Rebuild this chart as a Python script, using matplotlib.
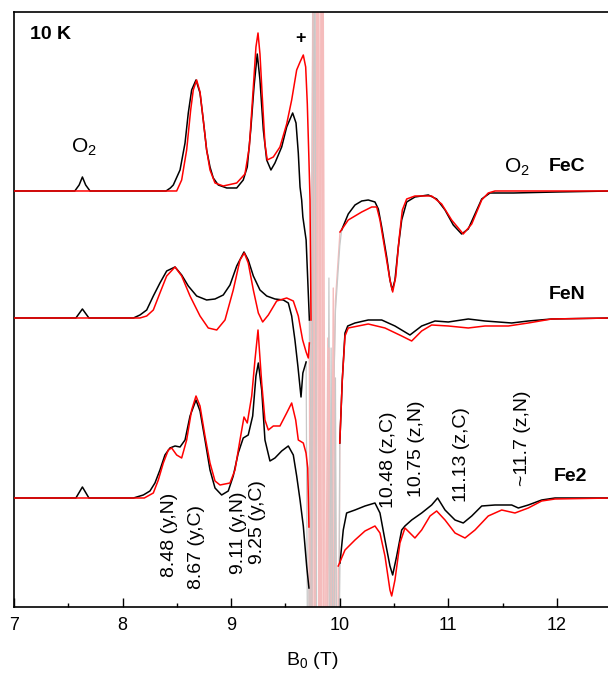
import matplotlib
matplotlib.use('Agg')
import matplotlib.pyplot as plt
from matplotlib.ticker import MultipleLocator

plt.rcParams['font.family'] = ['Liberation Sans', 'DejaVu Sans']
plt.rcParams['mathtext.fontset'] = 'custom'
plt.rcParams['mathtext.rm'] = 'Liberation Sans'
plt.rcParams['mathtext.it'] = 'Liberation Sans:italic'
plt.rcParams['mathtext.bf'] = 'Liberation Sans:bold'

NAN = float('nan')

# (B0 in T, signal in arbitrary units); NAN breaks the trace at the central line
# ---- FeC: experiment (black) and simulation (red) ----
fec_exp = [(7.00, 0), (7.56, 0), (7.60, 6), (7.63, 14), (7.66, 6), (7.70, 0), (8.40, 0), (8.44, 3),
           (8.467, 6), (8.529, 21), (8.575, 48), (8.605, 78), (8.636, 101), (8.676, 111), (8.713, 98),
           (8.743, 71), (8.774, 41), (8.805, 24), (8.835, 13), (8.881, 6), (8.959, 3), (9.051, 3),
           (9.111, 11), (9.148, 24), (9.180, 61), (9.210, 104), (9.240, 137), (9.265, 111), (9.296, 61),
           (9.327, 31), (9.366, 21), (9.403, 28), (9.465, 44), (9.511, 64), (9.566, 78), (9.597, 68),
           (9.618, 38), (9.634, 4), (9.649, -9), (9.66, -26), (9.69, -49), (9.72, -129), (9.85, NAN),
           (10.017, -39), (10.078, -23), (10.140, -14), (10.202, -10), (10.262, -9), (10.324, -11),
           (10.355, -18), (10.386, -36), (10.432, -66), (10.462, -89), (10.483, -99), (10.508, -89),
           (10.539, -56), (10.570, -29), (10.616, -11), (10.692, -6), (10.815, -4), (10.892, -8),
           (10.969, -19), (11.045, -34), (11.122, -43), (11.183, -38), (11.245, -23), (11.307, -8),
           (11.383, -2), (11.60, -2), (12.00, -1), (12.50, 0)]
fec_sim = [(7.00, 0), (8.498, 0), (8.544, 11), (8.590, 41), (8.627, 81), (8.651, 101), (8.682, 111),
           (8.713, 99), (8.743, 71), (8.774, 41), (8.805, 21), (8.851, 8), (8.927, 5), (9.051, 8),
           (9.127, 17), (9.167, 44), (9.204, 104), (9.228, 144), (9.247, 158), (9.265, 137), (9.290, 87),
           (9.311, 47), (9.332, 31), (9.388, 34), (9.449, 44), (9.511, 67), (9.557, 91), (9.603, 121),
           (9.634, 129), (9.664, 136), (9.686, 124), (9.701, 87), (9.716, 31), (9.726, -9), (9.735, -129),
           (9.85, NAN), (10.002, -41), (10.078, -29), (10.202, -21), (10.294, -16), (10.340, -16),
           (10.370, -29), (10.416, -59), (10.462, -89), (10.487, -101), (10.515, -86), (10.545, -49),
           (10.576, -19), (10.616, -8), (10.692, -5), (10.846, -5), (10.938, -13), (11.030, -29),
           (11.137, -43), (11.215, -33), (11.307, -9), (11.367, -2), (11.429, 0), (12.50, 0)]

# ---- FeN ----
fen_exp = [(7.00, 0), (7.57, 0), (7.63, 9), (7.69, 0), (8.10, 0), (8.16, 3), (8.222, 8), (8.283, 22),
           (8.344, 35), (8.406, 47), (8.483, 51), (8.544, 43), (8.605, 32), (8.682, 22), (8.774, 18),
           (8.851, 19), (8.927, 23), (8.989, 33), (9.051, 52), (9.118, 66), (9.157, 58), (9.204, 42),
           (9.265, 28), (9.327, 22), (9.403, 19), (9.480, 18), (9.526, 15), (9.557, 2), (9.587, -22),
           (9.615, -49), (9.643, -79), (9.66, -55), (9.69, -44), (9.85, NAN), (10.00, -125),
           (10.023, -62), (10.048, -15), (10.073, -8), (10.140, -5), (10.262, -2), (10.386, -2),
           (10.508, -8), (10.646, -17), (10.754, -8), (10.877, -3), (10.999, -4), (11.183, -1),
           (11.337, -3), (11.583, -5), (11.736, -3), (11.951, -1), (12.50, 0)]
fen_sim = [(7.00, 0), (8.16, 0), (8.222, 2), (8.283, 8), (8.344, 25), (8.406, 42), (8.483, 51),
           (8.544, 42), (8.621, 22), (8.713, 2), (8.789, -10), (8.867, -12), (8.943, -2), (9.019, 28),
           (9.081, 58), (9.121, 65), (9.157, 55), (9.204, 28), (9.250, 5), (9.290, -4), (9.342, 3),
           (9.419, 17), (9.511, 20), (9.572, 17), (9.618, 2), (9.658, -22), (9.69, -34), (9.71, -40),
           (9.72, -25), (9.85, NAN), (10.00, -125), (10.023, -62), (10.048, -18), (10.078, -10),
           (10.262, -6), (10.416, -10), (10.570, -18), (10.662, -23), (10.754, -13), (10.846, -7),
           (10.999, -8), (11.183, -10), (11.337, -8), (11.552, -8), (11.736, -5), (11.951, -1), (12.50, 0)]

# ---- Fe2 ----
fe2_exp = [(7.00, 0), (7.57, 0), (7.63, 11), (7.69, 0), (8.10, 0), (8.191, 3), (8.252, 7), (8.298, 15),
           (8.344, 28), (8.390, 43), (8.436, 50), (8.483, 52), (8.529, 51), (8.575, 58), (8.621, 82),
           (8.676, 98), (8.713, 87), (8.759, 58), (8.805, 28), (8.851, 10), (8.912, 3), (8.973, 7),
           (9.019, 22), (9.065, 45), (9.111, 60), (9.157, 63), (9.198, 82), (9.228, 122), (9.250, 135),
           (9.281, 108), (9.311, 58), (9.357, 37), (9.403, 40), (9.465, 47), (9.526, 52), (9.572, 43),
           (9.603, 22), (9.634, -2), (9.664, -28), (9.695, -68), (9.716, -90), (9.85, NAN),
           (10.002, -65), (10.032, -32), (10.063, -15), (10.140, -12), (10.232, -8), (10.324, -5),
           (10.370, -15), (10.416, -42), (10.462, -68), (10.487, -77), (10.524, -58), (10.570, -32),
           (10.600, -28), (10.662, -22), (10.754, -15), (10.846, -7), (10.901, 0), (10.969, -12),
           (11.061, -22), (11.137, -25), (11.215, -18), (11.307, -8), (11.429, -7), (11.583, -7),
           (11.644, -10), (11.736, -7), (11.859, -2), (11.982, 0), (12.50, 0)]
fe2_sim = [(7.00, 0), (8.20, 0), (8.283, 5), (8.329, 18), (8.375, 35), (8.421, 48), (8.452, 50),
           (8.498, 43), (8.544, 40), (8.590, 58), (8.636, 88), (8.676, 102), (8.713, 92), (8.759, 62),
           (8.805, 35), (8.851, 17), (8.897, 13), (8.989, 15), (9.035, 28), (9.081, 58), (9.118, 81),
           (9.148, 75), (9.189, 102), (9.219, 138), (9.247, 168), (9.281, 115), (9.311, 78), (9.342, 68),
           (9.388, 72), (9.449, 72), (9.511, 85), (9.557, 95), (9.594, 78), (9.618, 58), (9.664, 55),
           (9.689, 45), (9.705, 30), (9.716, -29), (9.85, NAN), (9.986, -68), (10.048, -52),
           (10.140, -42), (10.232, -33), (10.324, -28), (10.370, -35), (10.416, -58), (10.462, -92),
           (10.478, -98), (10.508, -82), (10.554, -45), (10.600, -30), (10.646, -35), (10.692, -40),
           (10.754, -32), (10.831, -18), (10.892, -13), (10.969, -22), (11.061, -35), (11.153, -40),
           (11.245, -32), (11.367, -18), (11.491, -12), (11.613, -15), (11.736, -10), (11.859, -3),
           (11.982, -1), (12.50, 0)]

# ---- off-scale part under the strong central line (drawn faded) ----
fec_exp_gap = [(9.72, -129), (9.74, -600), (9.758, 600), (9.77, -600), (9.92, -600), (9.935, -250),
               (9.96, -120), (10.00, -55), (10.017, -39)]
fec_sim_gap = [(9.735, -129), (9.75, -600), (9.765, 600), (9.78, -600), (9.80, 600), (9.82, -600),
               (9.835, 600), (9.85, -600), (9.91, -600), (9.93, -280), (9.96, -110), (10.002, -41)]
fen_exp_gap = [(9.69, -44), (9.71, -500), (9.762, 500), (9.775, -500), (9.88, -500), (9.90, 40),
               (9.92, -500), (9.985, -500), (10.00, -125)]
fen_sim_gap = [(9.72, -25), (9.73, -500), (9.755, 500), (9.77, -500), (9.79, 500), (9.81, -500),
               (9.83, 500), (9.86, -500), (9.89, -20), (9.91, -500), (9.94, 30), (9.96, -500),
               (9.985, -500), (10.00, -125)]
fe2_exp_gap = [(9.716, -90), (9.725, -300), (9.77, 600), (9.79, -300), (9.90, -300), (9.92, 150),
               (9.94, -300), (9.96, 120), (9.975, -300), (10.002, -65)]
fe2_sim_gap = [(9.716, -29), (9.725, -300), (9.76, 600), (9.775, -300), (9.80, 600), (9.83, -300),
               (9.845, 600), (9.87, -300), (9.90, 150), (9.93, -300), (9.955, 120), (9.975, -300),
               (9.986, -68)]

# vertical stacking of the three samples
offsets = {'FeC': 416, 'FeN': 289, 'Fe2': 109}

traces = [
    ('FeC', fec_exp, fec_sim, fec_exp_gap, fec_sim_gap),
    ('FeN', fen_exp, fen_sim, fen_exp_gap, fen_sim_gap),
    ('Fe2', fe2_exp, fe2_sim, fe2_exp_gap, fe2_sim_gap),
]

# peak assignments: (label, B position, height)
peak_labels = [
    ('8.48 (y,N)', 8.43, 72), ('8.67 (y,C)', 8.68, 60),
    ('9.11 (y,N)', 9.07, 74), ('9.25 (y,C)', 9.24, 85),
    ('10.48 (z,C)', 10.45, 147), ('10.75 (z,N)', 10.71, 158),
    ('11.13 (z,C)', 11.12, 152), ('~11.7 (z,N)', 11.68, 169),
]


def xy(points, off):
    xs = [p[0] for p in points]
    ys = [p[1] + off for p in points]
    return xs, ys


fig = plt.figure(figsize=(6.08, 6.77), dpi=100)
ax = fig.add_axes([0.023, 0.1034, 0.9824, 0.8789])

# faded parts first
for name, exp, sim, exp_gap, sim_gap in traces:
    off = offsets[name]
    ax.plot(*xy(sim_gap, off), color='#f5bcbc', lw=1.0, zorder=1)
    ax.plot(*xy(exp_gap, off), color='#c8c8c8', lw=0.9, zorder=1)

for name, exp, sim, exp_gap, sim_gap in traces:
    off = offsets[name]
    ax.plot(*xy(exp, off), color='black', lw=1.1, zorder=2)
    ax.plot(*xy(sim, off), color='#ff0000', lw=1.1, zorder=3)

ax.set_xlim(7, 12.5)
ax.set_ylim(0, 595)

# sample names and other labels
ax.text(12.09, 440, 'FeC', fontsize=14, fontweight='bold', ha='center', va='center')
ax.text(12.09, 312, 'FeN', fontsize=14, fontweight='bold', ha='center', va='center')
ax.text(12.12, 130, 'Fe2', fontsize=14, fontweight='bold', ha='center', va='center')
ax.text(7.15, 572, '10 K', fontsize=14, fontweight='bold', ha='left', va='center')
ax.text(9.634, 568, '+', fontsize=13, fontweight='bold', ha='center', va='center')
ax.text(7.645, 460, r'O$_2$', fontsize=15, ha='center', va='center')
ax.text(11.63, 440, r'O$_2$', fontsize=15, ha='center', va='center')

for txt, b, h in peak_labels:
    ax.text(b, h, txt, rotation=90, fontsize=14, ha='center', va='center')

# axes look
ax.spines['right'].set_visible(False)
for s in ['left', 'bottom', 'top']:
    ax.spines[s].set_linewidth(1.2)
ax.set_yticks([])
ax.xaxis.set_major_locator(MultipleLocator(1))
ax.xaxis.set_minor_locator(MultipleLocator(0.5))
ax.tick_params(axis='x', which='major', direction='in', length=6.5, width=1.0,
               labelsize=13, pad=7)
ax.tick_params(axis='x', which='minor', direction='in', length=3.2, width=1.0)
ax.set_xlabel(r'B$_0$ (T)', fontsize=14, labelpad=12)

plt.savefig('out.png', dpi=100)
